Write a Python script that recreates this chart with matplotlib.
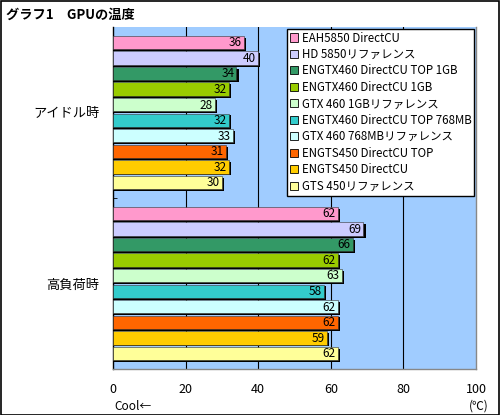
import matplotlib.pyplot as plt
from matplotlib.patches import Patch, Rectangle

plt.rcParams['font.family'] = ['Noto Sans CJK JP', 'DejaVu Sans']

# データ
cards = ['EAH5850 DirectCU', 'HD 5850リファレンス', 'ENGTX460 DirectCU TOP 1GB',
         'ENGTX460 DirectCU 1GB', 'GTX 460 1GBリファレンス', 'ENGTX460 DirectCU TOP 768MB',
         'GTX 460 768MBリファレンス', 'ENGTS450 DirectCU TOP', 'ENGTS450 DirectCU',
         'GTS 450リファレンス']
colors = ['#FF99CC', '#CCCCFF', '#339966', '#99CC00', '#CCFFCC',
          '#33CCCC', '#CCFFFF', '#FF6600', '#FFCC00', '#FFFF99']
groups = ['アイドル時', '高負荷時']
idle = [36, 40, 34, 32, 28, 32, 33, 31, 32, 30]
load = [62, 69, 66, 62, 63, 58, 62, 62, 59, 62]
xticks = [0, 20, 40, 60, 80, 100]

fig = plt.figure(figsize=(5, 4.15), dpi=100)
fig.patch.set_facecolor('white')
fig.patches.append(Rectangle((0.001, 0.001), 0.997, 0.997, transform=fig.transFigure,
                             fill=False, edgecolor='black', linewidth=1.2))

ax = fig.add_axes([0.226, 0.111, 0.726, 0.824])
ax.set_facecolor('#A0CCFF')

h = 0.86
for g, vals in enumerate([idle, load]):
    for i, v in enumerate(vals):
        y = g * 11 + i
        # 影
        ax.barh(y + 0.12, v + 0.6, height=h, color='black', zorder=2)
        ax.barh(y, v, height=h, color=colors[i], edgecolor='#333333', linewidth=0.4, zorder=3)
        ax.text(v - 0.6, y + 0.02, str(v), ha='right', va='center', fontsize=8.5,
                color='black', zorder=4)

ax.set_xlim(0, 100)
ax.set_ylim(21, -1)
for x in xticks[1:-1]:
    ax.axvline(x, color='black', linewidth=0.8, zorder=1)

ax.set_xticks(xticks)
ax.set_xticklabels([str(t) for t in xticks], fontsize=9)
ax.tick_params(axis='x', length=0, pad=10)
ax.set_yticks([4.5, 15.5])
ax.set_yticklabels(groups, fontsize=9.5)
ax.tick_params(axis='y', length=0, pad=10)
ax.set_yticks([10], minor=True)
ax.tick_params(axis='y', which='minor', direction='in', length=3)

ax.spines['top'].set_visible(False)
ax.spines['left'].set_color('black')
ax.spines['right'].set_color('#888888')
ax.spines['bottom'].set_color('#888888')
for s in ax.spines.values():
    s.set_linewidth(1)

ax.text(0.005, -0.09, 'Cool←', transform=ax.transAxes, ha='left', va='top', fontsize=8.5)
ax.text(1.035, -0.09, '(℃)', transform=ax.transAxes, ha='right', va='top', fontsize=8.5)

fig.text(0.012, 0.964, 'グラフ1　GPUの温度', ha='left', va='center', fontsize=9.5,
         fontweight='bold')

handles = [Patch(facecolor=c, edgecolor='black', linewidth=0.6) for c in colors]
leg = ax.legend(handles, cards, loc='upper right', bbox_to_anchor=(0.995, 0.995),
                borderaxespad=0, fontsize=8.3, fancybox=False, framealpha=1,
                edgecolor='black', handlelength=0.7, handleheight=0.7,
                handletextpad=0.3, labelspacing=0.3, borderpad=0.25)
leg.get_frame().set_linewidth(1)
leg.set_zorder(5)

fig.savefig('out.png', dpi=100)
